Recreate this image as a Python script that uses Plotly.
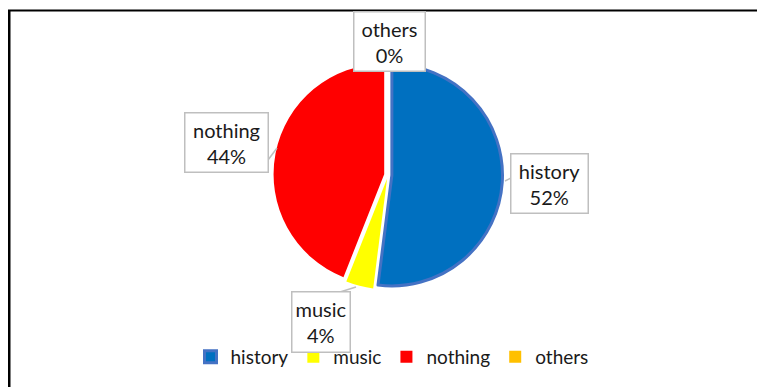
import plotly.graph_objects as go

# ---- data ----
categories = ["history", "music", "nothing", "others"]
values = [52, 4, 44, 0]
percent_labels = ["52%", "4%", "44%", "0%"]

# ---- style ----
colors = ["#0070C0", "#FFFF00", "#FF0000", "#FFC000"]
line_colors = ["#4472C4", "#FFFFFF", "#FFFFFF", "#FFFFFF"]
line_widths = [3, 0, 0, 0]
pulls = [0.035, 0.035, 0.035, 0.035]
W, H = 765, 387
OFF = 8  # page body margin offset (pixels)
FONT = "Lato"
TXT = "#1a1a1a"

# pie geometry (page pixels)
cx, cy, box = 388, 175, 229

# label box centers (page pixels) and sizes
label_pos = {"history": (549, 183), "music": (321, 322), "nothing": (226, 142), "others": (389, 41)}
label_size = {"history": (74, 56), "music": (55, 57), "nothing": (80, 56), "others": (68, 56)}
# leader lines (page pixels)
leaders = [((511, 178), (505, 181)), ((268, 160), (277, 148)), ((340, 292), (356, 287))]


def px(x):
    return (x - OFF) / W


def py(y):
    return 1 - (y - OFF) / H


fig = go.Figure()
fig.add_trace(go.Pie(
    labels=categories,
    values=values,
    sort=False,
    direction="clockwise",
    rotation=0,
    pull=pulls,
    textinfo="none",
    marker=dict(colors=colors, line=dict(color=line_colors, width=line_widths)),
    domain=dict(x=[px(cx - box / 2), px(cx + box / 2)],
                y=[py(cy + box / 2), py(cy - box / 2)]),
    showlegend=True,
))

annotations = []
for cat, pct in zip(categories, percent_labels):
    x, y = label_pos[cat]
    w, h = label_size[cat]
    annotations.append(dict(
        x=px(x), y=py(y), xref="paper", yref="paper",
        text=f"{cat}<br>{pct}", showarrow=False,
        font=dict(family=FONT, size=20, color=TXT),
        bgcolor="white", bordercolor="#BFBFBF", borderwidth=1.5, borderpad=1,
        width=w, height=h, align="center", valign="middle",
        xanchor="center", yanchor="middle",
    ))

shapes = []
for (x0, y0), (x1, y1) in leaders:
    shapes.append(dict(type="line", xref="paper", yref="paper",
                       x0=px(x0), y0=py(y0), x1=px(x1), y1=py(y1),
                       line=dict(color="#BFBFBF", width=1.5)))
# outer frame lines (top and left)
shapes.append(dict(type="line", xref="paper", yref="paper",
                   x0=px(8), y0=py(10.5), x1=1, y1=py(10.5),
                   line=dict(color="black", width=2)))
shapes.append(dict(type="line", xref="paper", yref="paper",
                   x0=px(9.25), y0=py(10), x1=px(9.25), y1=0,
                   line=dict(color="black", width=2.5)))

fig.update_layout(
    width=W, height=H,
    margin=dict(l=0, r=0, t=0, b=0),
    paper_bgcolor="white", plot_bgcolor="white",
    font=dict(family=FONT, size=20, color=TXT),
    legend=dict(orientation="h", x=px(392), xanchor="center",
                y=py(357), yanchor="middle",
                font=dict(family=FONT, size=19, color=TXT),
                itemwidth=30, traceorder="normal"),
    annotations=annotations,
    shapes=shapes,
)

fig.write_html("out.html")
